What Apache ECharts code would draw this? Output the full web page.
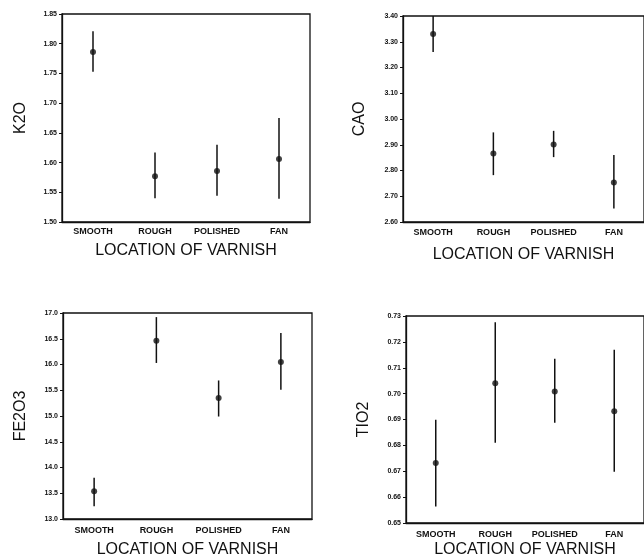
<!DOCTYPE html>
<html>
<head>
<meta charset="utf-8">
<script src="https://cdn.jsdelivr.net/npm/echarts@6/dist/echarts.min.js"></script>
<style>
html,body{margin:0;padding:0;background:#fff;}
#chart{width:644px;height:559px;}
</style>
</head>
<body>
<div id="chart"></div>
<script>
// Categories
const categories = ['SMOOTH', 'ROUGH', 'POLISHED', 'FAN'];

// K2O panel
const k2oMean = [1.786, 1.577, 1.586, 1.606];
const k2oLow  = [1.753, 1.540, 1.544, 1.539];
const k2oHigh = [1.821, 1.617, 1.630, 1.675];

// CAO panel
const caoMean = [3.330, 2.866, 2.901, 2.753];
const caoLow  = [3.260, 2.782, 2.852, 2.652];
const caoHigh = [3.400, 2.948, 2.954, 2.860];

// FE2O3 panel
const feMean = [13.54, 16.46, 15.35, 16.05];
const feLow  = [13.25, 16.03, 14.99, 15.51];
const feHigh = [13.80, 16.92, 15.69, 16.61];

// TIO2 panel
const tiMean = [0.6732, 0.7040, 0.7008, 0.6932];
const tiLow  = [0.6564, 0.6810, 0.6887, 0.6698];
const tiHigh = [0.6899, 0.7276, 0.7135, 0.7170];

// Axis tick ranges (min, max, interval, decimals)
const k2oTicks = [1.50, 1.85, 0.05, 2];
const caoTicks = [2.60, 3.40, 0.10, 2];
const feTicks  = [13.0, 17.0, 0.5, 1];
const tiTicks  = [0.65, 0.73, 0.01, 2];

const yNames = ['K2O', 'CAO', 'FE2O3', 'TIO2'];
const xName = 'LOCATION OF VARNISH';

const panels = [
  {mean: k2oMean, low: k2oLow, high: k2oHigh, ticks: k2oTicks},
  {mean: caoMean, low: caoLow, high: caoHigh, ticks: caoTicks},
  {mean: feMean, low: feLow, high: feHigh, ticks: feTicks},
  {mean: tiMean, low: tiLow, high: tiHigh, ticks: tiTicks}
];

const grids = [
  {left: 62, top: 14, width: 248, height: 208},
  {left: 403, top: 16, width: 248, height: 206},
  {left: 63, top: 313, width: 249, height: 206},
  {left: 406, top: 316, width: 248, height: 209}
];
const xNameGaps = [21, 25, 23, 19];
const xLabelMargins = [5, 6, 7, 7];
const yNameGaps = [33, 35, 34, 34];

const font = 'Liberation Sans, Arial, Helvetica, sans-serif';

const option = {
  backgroundColor: '#fff',
  animation: false,
  grid: grids.map(g => Object.assign({show: true, borderColor: '#111', borderWidth: 1.3, backgroundColor: 'transparent', containLabel: false}, g)),
  xAxis: grids.map((g, i) => ({
    type: 'category', gridIndex: i, data: categories,
    boundaryGap: true,
    axisLine: {show: true, lineStyle: {color: '#111', width: 1.3}},
    axisTick: {show: false},
    axisLabel: {color: '#111', fontSize: 9, fontWeight: 'bold', fontFamily: font, margin: xLabelMargins[i], interval: 0},
    splitLine: {show: false},
    name: xName, nameLocation: 'middle', nameGap: xNameGaps[i],
    nameTextStyle: {color: '#111', fontSize: 16, fontFamily: font}
  })),
  yAxis: panels.map((p, i) => ({
    type: 'value', gridIndex: i,
    min: p.ticks[0], max: p.ticks[1], interval: p.ticks[2],
    axisLine: {show: true, lineStyle: {color: '#111', width: 1.3}},
    axisTick: {show: true, length: 3, lineStyle: {color: '#111'}},
    axisLabel: {color: '#111', fontSize: 7, fontWeight: 'bold', fontFamily: font, margin: 5,
      formatter: v => v.toFixed(p.ticks[3])},
    splitLine: {show: false},
    name: yNames[i], nameLocation: 'middle', nameRotate: 90, nameGap: yNameGaps[i],
    nameTextStyle: {color: '#111', fontSize: 16, fontFamily: font}
  })),
  series: []
};

panels.forEach((p, i) => {
  option.series.push({
    type: 'custom', xAxisIndex: i, yAxisIndex: i,
    data: categories.map((c, j) => [j, p.low[j], p.high[j]]),
    renderItem: function (params, api) {
      const lo = api.coord([api.value(0), api.value(1)]);
      const hi = api.coord([api.value(0), api.value(2)]);
      return {type: 'line', shape: {x1: lo[0], y1: lo[1], x2: hi[0], y2: hi[1]},
        style: {stroke: '#111', lineWidth: 1.5}};
    },
    silent: true
  });
  option.series.push({
    type: 'scatter', xAxisIndex: i, yAxisIndex: i,
    data: categories.map((c, j) => [j, p.mean[j]]),
    symbol: 'circle', symbolSize: 6,
    itemStyle: {color: '#111'},
    silent: true
  });
});

const chart = echarts.init(document.getElementById('chart'), null, {renderer: 'canvas'});
chart.setOption(option);
</script>
</body>
</html>
